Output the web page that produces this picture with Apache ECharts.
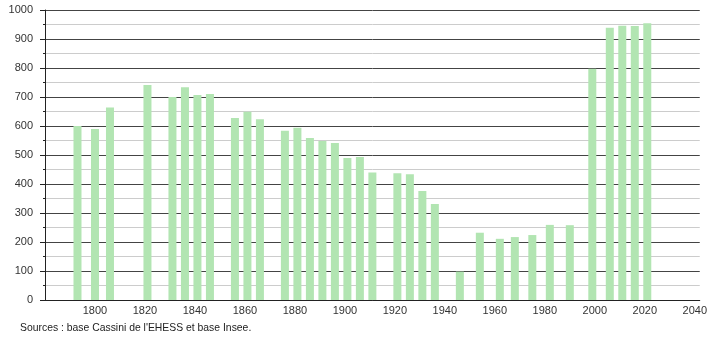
<!DOCTYPE html>
<html>
<head>
<meta charset="utf-8">
<script src="https://cdn.jsdelivr.net/npm/echarts@6/dist/echarts.min.js"></script>
<style>html,body{margin:0;padding:0;background:#fff}#c{width:710px;height:340px}</style>
</head>
<body>
<div id="c"></div>
<script>
const years = [1793,1800,1806,1821,1831,1836,1841,1846,1856,1861,1866,1876,1881,1886,1891,1896,1901,1906,1911,1921,1926,1931,1936,1946,1954,1962,1968,1975,1982,1990,1999,2006,2011,2016,2021];
const population = [600,590,664,741,700,734,707,710,628,649,623,584,594,559,548,541,490,493,440,437,434,376,331,98,232,211,217,224,259,258,797,939,946,945,954];
const sourceText = "Sources : base Cassini de l'EHESS et base Insee.";

const chart = echarts.init(document.getElementById('c'), null, {renderer:'canvas'});
chart.setOption({
  animation:false,
  backgroundColor:'#fff',
  grid:{left:45,right:10,top:10,bottom:40,containLabel:false},
  xAxis:{
    type:'value',min:1780,max:2042,interval:20,
    axisLine:{show:true,lineStyle:{color:'#222',width:1}},
    axisTick:{show:false},
    splitLine:{show:false},
    axisLabel:{showMinLabel:false,showMaxLabel:false,color:'#333',fontSize:11,fontFamily:'Liberation Sans, Arial, sans-serif',margin:5,formatter:v=>String(v)}
  },
  yAxis:{
    type:'value',min:0,max:1000,interval:100,
    axisLine:{show:true,lineStyle:{color:'#222',width:1}},
    axisTick:{show:true,length:5,lineStyle:{color:'#222'}},
    minorTick:{show:true,splitNumber:2,length:2,lineStyle:{color:'#222'}},
    splitLine:{show:true,lineStyle:{color:'#444',width:1}},
    minorSplitLine:{show:true,lineStyle:{color:'#ccc',width:1}},
    axisLabel:{color:'#333',fontSize:11,fontFamily:'Liberation Sans, Arial, sans-serif',margin:12,formatter:v=>String(v)}
  },
  series:[{
    type:'bar',
    barWidth:8,
    data:years.map((y,i)=>[y,population[i]]),
    itemStyle:{color:'#b2e5b2'},
    z:3
  }],
  graphic:[{
    type:'text',left:20,top:323,
    style:{text:sourceText,fill:'#222',font:'10.4px "Liberation Sans", Arial, sans-serif'}
  }]
});
</script>
</body>
</html>
